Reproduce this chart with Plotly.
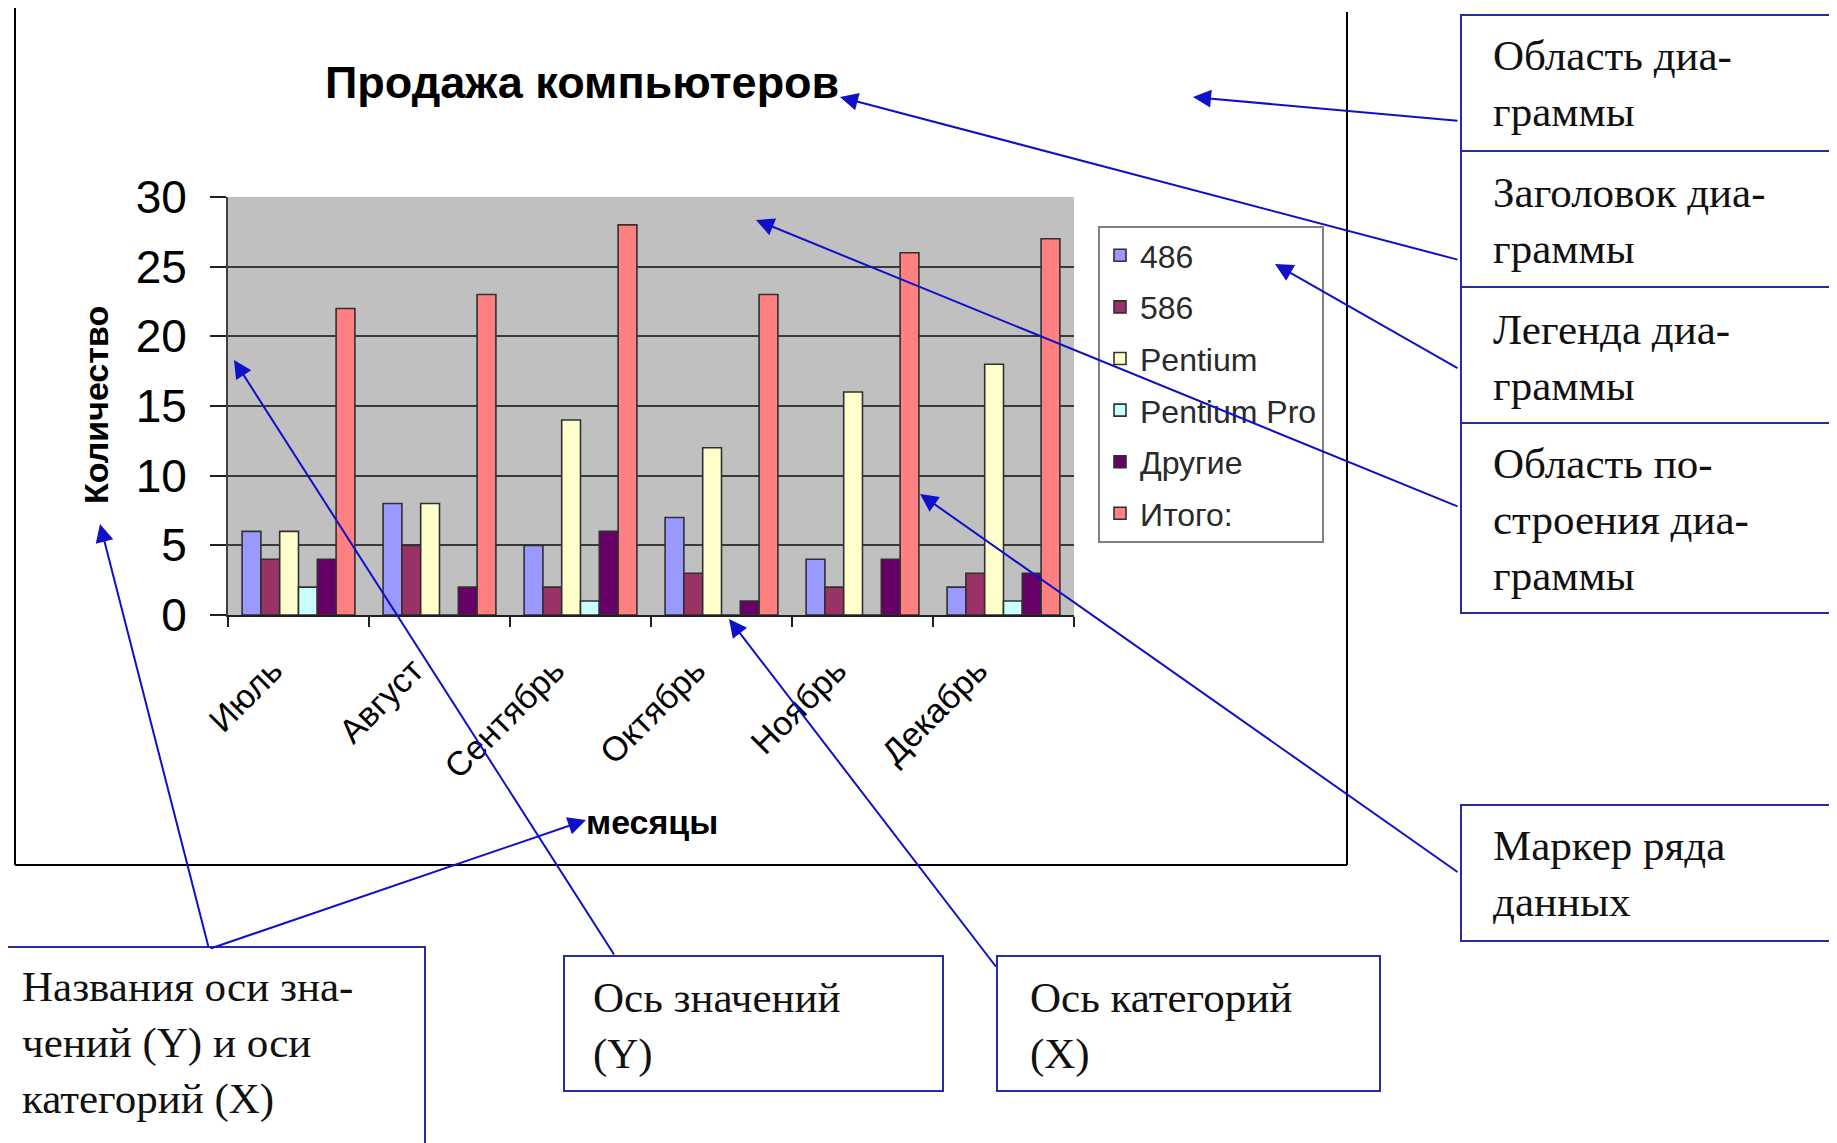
import plotly.graph_objects as go

# ---- data ----
months = ["Июль", "Август", "Сентябрь", "Октябрь", "Ноябрь", "Декабрь"]
s_486 = [6, 8, 5, 7, 4, 2]
s_586 = [4, 5, 2, 3, 2, 3]
s_pentium = [6, 8, 14, 12, 16, 18]
s_pentium_pro = [2, 0, 1, 0, 0, 1]
s_other = [4, 2, 6, 1, 4, 3]
s_total = [22, 23, 28, 23, 26, 27]
series_names = ["486", "586", "Pentium", "Pentium Pro", "Другие", "Итого:"]
series_values = [s_486, s_586, s_pentium, s_pentium_pro, s_other, s_total]
series_colors = ["#9999FF", "#993366", "#FFFFCC", "#CCFFFF", "#660066", "#FF8080"]
y_ticks = [0, 5, 10, 15, 20, 25, 30]

W, H = 1837, 1143
OFF = 8  # browser default body margin


def X(px):
    return (px - OFF) / W


def Y(py):
    return 1 - (py - OFF) / H


SANS = "Liberation Sans, Arial, sans-serif"
SERIF = "Liberation Serif, Times New Roman, serif"
BLUE = "#1010C8"
BOXC = "#2A2AA0"

fig = go.Figure()
for i, (name, vals, col) in enumerate(zip(series_names, series_values, series_colors)):
    fig.add_trace(go.Bar(
        x=months, y=vals, name=name, legendgroup=f"g{i}",
        marker=dict(color=col, line=dict(color="#303030", width=1.6)),
    ))

shapes = []
# chart area border (left, right, bottom)
for x0, y0, x1, y1 in [(15, -5, 15, 865), (1347, 12, 1347, 865), (15, 865, 1347, 865)]:
    shapes.append(dict(type="line", xref="paper", yref="paper",
                       x0=X(x0), y0=Y(y0), x1=X(x1), y1=Y(y1),
                       line=dict(color="black", width=2)))
# callout boxes
boxes = [
    (1461, 15, 1860, 151),
    (1461, 151, 1860, 287),
    (1461, 287, 1860, 423),
    (1461, 423, 1860, 613),
    (1461, 805, 1860, 941),
    (-10, 947, 425, 1170),
    (564, 956, 943, 1091),
    (997, 956, 1380, 1091),
]
for x0, y0, x1, y1 in boxes:
    shapes.append(dict(type="rect", xref="paper", yref="paper",
                       x0=X(x0), y0=Y(y1), x1=X(x1), y1=Y(y0),
                       line=dict(color=BOXC, width=2), fillcolor="rgba(0,0,0,0)"))

annotations = []
# title
annotations.append(dict(text="<b>Продажа компьютеров</b>", xref="paper", yref="paper",
                        x=X(582), y=Y(82), xanchor="center", yanchor="middle",
                        showarrow=False, font=dict(family=SANS, size=45, color="black")))
# axis titles
annotations.append(dict(text="<b>Количество</b>", xref="paper", yref="paper",
                        x=X(96), y=Y(405), xanchor="center", yanchor="middle", textangle=-90,
                        showarrow=False, font=dict(family=SANS, size=34, color="black")))
annotations.append(dict(text="<b>месяцы</b>", xref="paper", yref="paper",
                        x=X(652), y=Y(822), xanchor="center", yanchor="middle",
                        showarrow=False, font=dict(family=SANS, size=34, color="black")))
# callout texts
texts = [
    ("Область диа-<br>граммы", 1491, 84),
    ("Заголовок диа-<br>граммы", 1491, 220),
    ("Легенда диа-<br>граммы", 1491, 357),
    ("Область по-<br>строения диа-<br>граммы", 1491, 519),
    ("Маркер ряда<br>данных", 1491, 873),
    ("Названия оси зна-<br>чений (Y) и оси<br>категорий (X)", 20, 1043),
    ("Ось значений<br>(Y)", 591, 1026),
    ("Ось категорий<br>(X)", 1028, 1026),
]
for t, x, y in texts:
    annotations.append(dict(text=t, xref="paper", yref="paper", x=X(x), y=Y(y),
                            xanchor="left", yanchor="middle", align="left", showarrow=False,
                            font=dict(family=SERIF, size=43, color="#111111")))
# arrows: (tail_x, tail_y, head_x, head_y)
arrows = [
    (1459, 121, 1193, 97),
    (1459, 260, 840, 97),
    (1459, 369, 1275, 264),
    (1459, 507, 756, 220),
    (1459, 873, 920, 494),
    (209, 949, 100, 524),
    (209, 949, 586, 820),
    (615, 956, 234, 360),
    (997, 968, 729, 619),
]
for tx, ty, hx, hy in arrows:
    annotations.append(dict(text="", xref="paper", yref="paper", x=X(hx), y=Y(hy),
                            ax=tx - hx, ay=ty - hy, axref="pixel", ayref="pixel",
                            showarrow=True, arrowhead=2, arrowsize=1.8, arrowwidth=2,
                            arrowcolor=BLUE, standoff=0))

fig.update_layout(
    width=W, height=H,
    margin=dict(l=0, r=0, t=0, b=0),
    paper_bgcolor="white",
    plot_bgcolor="#C0C0C0",
    barmode="group", bargap=0.2, bargroupgap=0,
    font=dict(family=SANS, color="black"),
    showlegend=True,
    legend=dict(x=X(1098), y=Y(226), xanchor="left", yanchor="top",
                bgcolor="white", bordercolor="#808080", borderwidth=2,
                font=dict(family=SANS, size=32, color="#2a2a2a"),
                tracegroupgap=7, traceorder="grouped"),
    xaxis=dict(domain=[X(228), X(1074)], automargin=False,
               showline=True, linecolor="#202020", linewidth=2,
               ticks="outside", tickson="boundaries", ticklen=10, tickwidth=2, tickcolor="#202020",
               tickangle=-45, tickfont=dict(family=SANS, size=34, color="black"),
               ticklabelstandoff=20, ticklabelshift=-26,
               showgrid=False),
    yaxis=dict(domain=[Y(615), Y(197)], automargin=False, range=[0, 30],
               tickvals=y_ticks, ticks="outside", ticklen=16, tickwidth=2, tickcolor="#202020",
               tickfont=dict(family=SANS, size=46, color="black"),
               ticklabelstandoff=14,
               showline=True, linecolor="#404040", linewidth=2,
               showgrid=True, gridcolor="#3a3a3a", gridwidth=2, zeroline=False),
    shapes=shapes,
    annotations=annotations,
)

fig.write_html("out.html")
